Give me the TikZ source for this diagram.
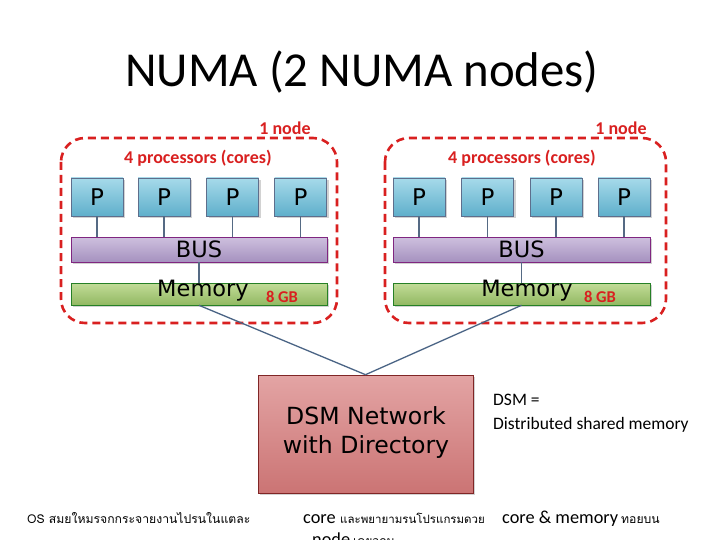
\documentclass[tikz,border=0pt]{standalone}
\usepackage{fontspec}
\setmainfont{Carlito}
\newfontfamily\vfont{DejaVu Sans}
\newfontfamily\thaifont[Script=Thai]{Loma}
\usetikzlibrary{shadows}
\definecolor{nred}{HTML}{D92020}
\definecolor{conn}{HTML}{4A6485}
\begin{document}
\begin{tikzpicture}[x=1pt,y=-1pt,
  box/.style={draw=#1!70!gray, line width=0.6pt, inner sep=0pt,
    drop shadow={shadow xshift=2pt, shadow yshift=-2pt, opacity=0.35, fill=gray}},
  pbox/.style={box=cyan!50!blue!60!black, top color=pTop, bottom color=pBot,
    minimum width=52pt, minimum height=38pt, font=\vfont\fontsize{23}{23}\selectfont},
  busbox/.style={box=violet, top color=bTop, bottom color=bBot,
    minimum height=25pt, font=\vfont\fontsize{22.5}{22.5}\selectfont},
  membox/.style={box=green!50!black, top color=mTop, bottom color=mBot,
    minimum height=22pt},
  memtext/.style={font=\vfont\fontsize{22.5}{22.5}\selectfont, inner sep=0pt},
  dsmbox/.style={box=red!50!black, top color=dTop, bottom color=dBot,
    minimum width=215pt, minimum height=118pt},
  nodebox/.style={draw=nred, line width=2.6pt, dash pattern=on 8pt off 5pt, rounded corners=24pt},
  redlab/.style={text=nred, font=\bfseries\fontsize{18}{18}\selectfont, inner sep=0pt},
  gb/.style={text=nred, font=\bfseries\fontsize{16.5}{16.5}\selectfont, inner sep=0pt},
  wire/.style={draw=conn, line width=1.3pt},
  bwire/.style={draw=conn!80!gray, line width=1.4pt},
  lat/.style={font=\fontsize{18.3}{18.3}\selectfont, inner sep=0pt, anchor=base west},
  thai/.style={font=\thaifont\fontsize{12.2}{12.2}\selectfont, inner sep=0pt, anchor=base west}
]
\definecolor{pTop}{HTML}{A6DAEA}
\definecolor{pBot}{HTML}{5FAFCB}
\definecolor{bTop}{HTML}{CEC0DE}
\definecolor{bBot}{HTML}{A591BF}
\definecolor{mTop}{HTML}{C2DC98}
\definecolor{mBot}{HTML}{92B862}
\definecolor{dTop}{HTML}{E3A4A4}
\definecolor{dBot}{HTML}{CB7474}
\useasboundingbox[fill=white] (0,0) rectangle (720,540);

% title
\node[font=\fontsize{48.8}{48.8}\selectfont, inner sep=0pt] (title) at (362,72) {NUMA (2 NUMA nodes)};

% ---------- left node ----------
\draw[nodebox] (61,138) rectangle (337,323);
\node[redlab] (nlabL) at (285,128) {1 node};
\node[redlab] (plabL) at (198,158) {4 processors (cores)};
\node[pbox] (pL1) at (97,197) {P};
\node[pbox] (pL2) at (164,197) {P};
\node[pbox] (pL3) at (232.5,197) {P};
\node[pbox] (pL4) at (300.5,197) {P};
\node[busbox, minimum width=256pt] (busL) at (199,249.5) {BUS};
\node[membox, minimum width=256pt] (memL) at (199,294) {};
\node[memtext] (memtL) at (203,291) {Memory};
\node[gb] (gbL) at (282,297) {8 GB};
\foreach \i in {1,...,4} \draw[bwire] (pL\i.south) -- (pL\i.south |- busL.north);
\draw[bwire] (busL.south) -- (memL.north);

% ---------- right node ----------
\draw[nodebox] (385,138) rectangle (666,323);
\node[redlab] (nlabR) at (621,128) {1 node};
\node[redlab] (plabR) at (522,158) {4 processors (cores)};
\node[pbox] (pR1) at (419,197) {P};
\node[pbox] (pR2) at (487.5,197) {P};
\node[pbox] (pR3) at (556,197) {P};
\node[pbox] (pR4) at (624,197) {P};
\node[busbox, minimum width=257pt] (busR) at (521.5,249.5) {BUS};
\node[membox, minimum width=257pt] (memR) at (521.5,294) {};
\node[memtext] (memtR) at (527,291) {Memory};
\node[gb] (gbR) at (600,297) {8 GB};
\foreach \i in {1,...,4} \draw[bwire] (pR\i.south) -- (pR\i.south |- busR.north);
\draw[bwire] (busR.south) -- (memR.north);

% ---------- DSM ----------
\node[dsmbox] (dsm) at (365.5,434) {};
\node[font=\vfont\fontsize{23.6}{29}\selectfont, align=center, inner sep=0pt] (dsmt) at (366,432) {DSM Network\\with Directory};
\draw[wire] (memL.south) -- (dsm.north);
\draw[wire] (memR.south) -- (dsm.north);

\node[lat, font=\fontsize{17.5}{17.5}\selectfont] (dsmeq) at (493,405) {DSM =};
\node[lat, font=\fontsize{17.5}{17.5}\selectfont] (dsmdef) at (493,429) {Distributed shared memory};

% ---------- bottom text ----------
\node[thai] (t1) at (27,523) {OS สมยใหมรจกกระจายงานไปรนในแตละ};
\node[lat] (t2) at (303,523) {core};
\node[thai, font=\thaifont\fontsize{11.5}{11.5}\selectfont] (t3) at (340,523) {และพยายามรนโปรแกรมดวย};
\node[lat] (t4) at (502,523) {core \& memory};
\node[thai] (t5) at (621,523) {ทอยบน};
\node[lat] (t6) at (312,545) {node};
\node[thai] (t7) at (353,545) {เดยวกน};
\end{tikzpicture}
\end{document}
